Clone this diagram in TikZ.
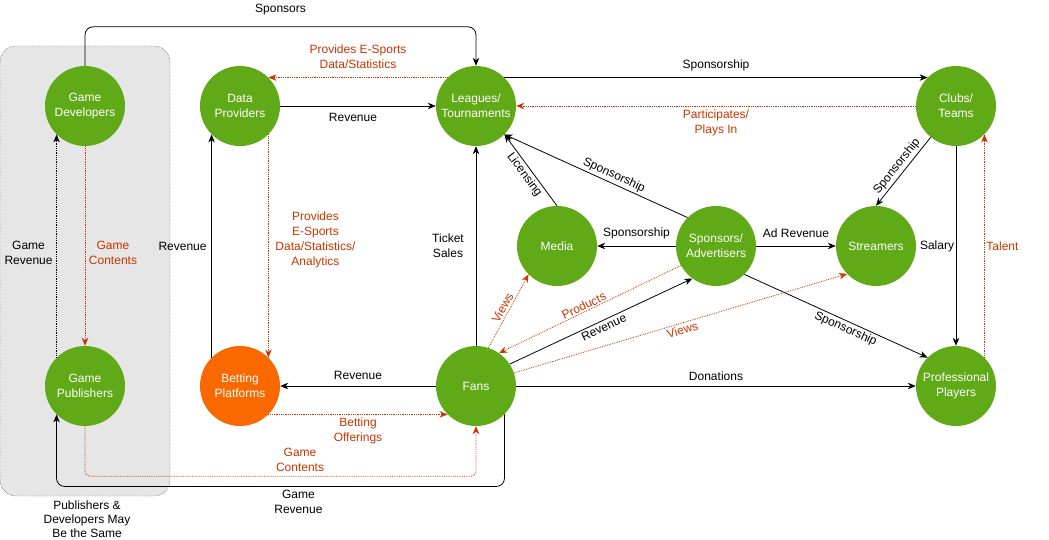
\documentclass[tikz,border=0pt]{standalone}
\usepackage{fontspec}
\setmainfont{Liberation Sans}
\usepackage{xcolor}
\usetikzlibrary{arrows.meta}
\definecolor{grn}{HTML}{60A917}
\definecolor{bet}{HTML}{FA6800}
\definecolor{orng}{HTML}{C73500}
\definecolor{boxgray}{HTML}{E6E6E6}
\tikzset{
  actor/.style={circle, fill=grn, text=white, minimum size=80pt, inner sep=0pt, align=center},
  flow/.style={->, black, line width=0.8pt},
  info/.style={->, orng, densely dotted, line width=0.8pt},
  lbl/.style={inner sep=1pt, align=center, text=black},
  olbl/.style={lbl, text=orng}
}
\begin{document}
\begin{tikzpicture}[x=1pt, y=-1pt, font=\fontsize{12}{15}\selectfont,
  >={Stealth[length=8pt,width=6.5pt,inset=2.5pt]}]
\useasboundingbox (0,0) rectangle (1049,540);
% Gruppe: Publisher und Entwickler
\draw[fill=boxgray, densely dotted, rounded corners=16pt] (0,46) rectangle (170,496);
\node[lbl, font=\fontsize{12}{14.2}\selectfont] (same) at (87,519.5) {Publishers \&\\Developers May\\Be the Same};

% Akteure
\node[actor] (dev) at (85,106) {Game\\Developers};
\node[actor] (dat) at (240,106) {Data\\Providers};
\node[actor] (lea) at (476,106) {Leagues/\\Tournaments};
\node[actor] (clu) at (956,106) {Clubs/\\Teams};
\node[actor] (med) at (557,246) {Media};
\node[actor] (spo) at (716,246) {Sponsors/\\Advertisers};
\node[actor] (str) at (876,246) {Streamers};
\node[actor] (pub) at (85,386) {Game\\Publishers};
\node[actor, fill=bet] (bet) at (240,386) {Betting\\Platforms};
\node[actor] (fan) at (476,386) {Fans};
\node[actor] (pla) at (956,386) {Professional\\Players};

% obere Reihe
\draw[flow, rounded corners=8pt] (dev.north) -- ++(0,-39) -| node[lbl, pos=0.25, yshift=17pt] {Sponsors} (lea.north);
\draw[info] (lea.135) -- node[olbl, yshift=21pt] {Provides E-Sports\\Data/Statistics} (dat.45);
\draw[flow] (dat.east) -- node[lbl, xshift=-5pt, yshift=-11pt] {Revenue} (lea.west);
\draw[flow] (lea.45) -- node[lbl, yshift=12pt] {Sponsorship} (clu.135);
\draw[info] (clu.west) -- node[olbl, yshift=-17pt] {Participates/\\Plays In} (lea.east);

% rechts
\draw[flow] (clu.231) -- node[lbl, sloped, above=1pt] {Sponsorship} (str.north);
\draw[flow] (clu.south) -- node[lbl, xshift=-19pt] {Salary} (pla.north);
\draw[info] (pla.45) -- node[olbl, xshift=18pt] {Talent} (clu.-45);

% Mitte
\draw[flow] (med.north) -- node[lbl, sloped, below=1pt] {Licensing} (lea.-45);
\draw[flow] (spo.135) -- node[lbl, pos=0.42, sloped, above=1pt] {Sponsorship} (lea.-45);
\draw[flow] (spo.west) -- node[lbl, yshift=13pt] {Sponsorship} (med.east);
\draw[flow] (spo.east) -- node[lbl, yshift=13pt] {Ad Revenue} (str.west);
\draw[flow] (spo.-45) -- node[lbl, pos=0.57, sloped, below=1pt] {Sponsorship} (pla.135);

% Fans
\draw[flow] (fan.north) -- node[lbl, xshift=-28pt] {Ticket\\Sales} (lea.south);
\draw[info] (fan.72) -- node[olbl, sloped, above=1pt] {Views} (med.225);
\draw[info] (spo.209) -- node[olbl, pos=0.52, sloped, above=0pt] {Products} (fan.55);
\draw[flow] (fan.33) -- node[lbl, sloped, below=1pt] {Revenue} (spo.234);
\draw[info] (fan.19) -- node[olbl, sloped, below=1pt] {Views} (str.224);
\draw[flow] (fan.east) -- node[lbl, yshift=10pt] {Donations} (pla.west);
\draw[flow] (fan.west) -- node[lbl, yshift=11pt] {Revenue} (bet.east);
\draw[info] (bet.-45) -- node[olbl, yshift=-16pt] {Betting\\Offerings} (fan.225);

% links
\draw[flow] (bet.135) -- node[lbl, xshift=-29pt] {Revenue} (dat.225);
\draw[info] (dat.-45) -- node[olbl, xshift=47pt, yshift=6pt] {Provides\\E-Sports\\Data/Statistics/\\Analytics} (bet.45);
\draw[info] (dev.south) -- node[olbl, xshift=28pt, yshift=-7pt] {Game\\Contents} (pub.north);
\draw[flow, densely dotted] (pub.135) -- node[lbl, xshift=-28pt, yshift=-7pt] {Game\\Revenue} (dev.225);

% unten
\draw[info, rounded corners=5pt] (pub.south) -- ++(0,50) -| node[olbl, pos=0.275, yshift=16pt] {Game\\Contents} (fan.south);
\draw[flow, rounded corners=8pt] (fan.-45) -- ++(0,72) -| node[lbl, pos=0.23, yshift=-15pt] {Game\\Revenue} (pub.225);
\end{tikzpicture}
\end{document}
